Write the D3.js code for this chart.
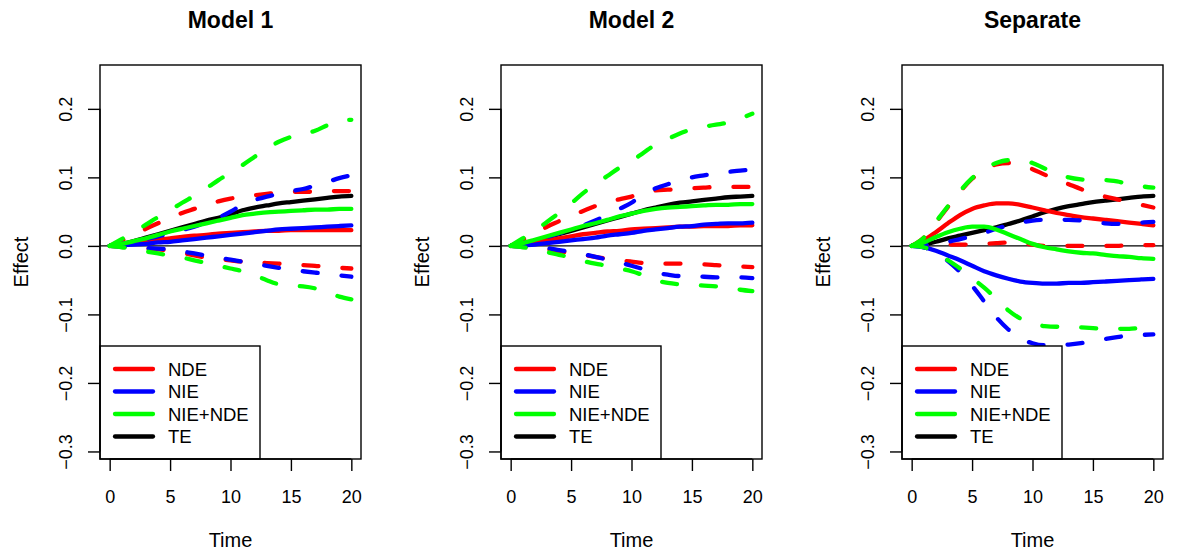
<!DOCTYPE html>
<html>
<head>
<meta charset="utf-8">
<script src="https://cdn.jsdelivr.net/npm/d3@7"></script>
<style>
  body { margin: 0; background: #fff; }
  svg { display: block; font-family: "Liberation Sans", Arial, sans-serif; }
</style>
</head>
<body>
<script>
// time points
var time = [0,1,2,3,4,5,6,7,8,9,10,11,12,13,14,15,16,17,18,19,20];

// Model 1
var m1NDE   = [0,0.002,0.004,0.007,0.009,0.011,0.013,0.015,0.016,0.018,0.019,0.020,0.021,0.022,0.022,0.023,0.023,0.023,0.023,0.023,0.023];
var m1NDElo = [0,-0.001,-0.002,-0.004,-0.005,-0.007,-0.010,-0.014,-0.017,-0.019,-0.021,-0.023,-0.024,-0.025,-0.026,-0.027,-0.028,-0.029,-0.031,-0.032,-0.033];
var m1NDEhi = [0,0.008,0.016,0.025,0.033,0.041,0.048,0.054,0.060,0.065,0.069,0.072,0.074,0.076,0.078,0.079,0.079,0.079,0.080,0.080,0.080];
var m1NIE   = [0,0.001,0.002,0.003,0.005,0.006,0.008,0.010,0.012,0.014,0.016,0.018,0.020,0.022,0.024,0.025,0.026,0.027,0.028,0.029,0.030];
var m1NIElo = [0,-0.001,-0.002,-0.003,-0.004,-0.005,-0.008,-0.011,-0.014,-0.017,-0.020,-0.023,-0.026,-0.029,-0.032,-0.035,-0.037,-0.039,-0.041,-0.043,-0.045];
var m1NIEhi = [0,0.003,0.006,0.010,0.014,0.018,0.023,0.028,0.034,0.041,0.050,0.060,0.067,0.072,0.076,0.080,0.083,0.088,0.093,0.099,0.103];
var m1SUM   = [0,0.003,0.007,0.011,0.016,0.021,0.025,0.029,0.033,0.037,0.041,0.045,0.047,0.049,0.050,0.051,0.052,0.053,0.053,0.054,0.054];
var m1SUMlo = [0,-0.002,-0.005,-0.008,-0.011,-0.014,-0.017,-0.021,-0.025,-0.029,-0.033,-0.037,-0.043,-0.050,-0.056,-0.058,-0.059,-0.062,-0.068,-0.074,-0.078];
var m1SUMhi = [0,0.010,0.020,0.031,0.042,0.052,0.063,0.073,0.084,0.096,0.107,0.118,0.130,0.142,0.152,0.159,0.163,0.168,0.176,0.183,0.184];
var m1TE    = [0,0.003,0.007,0.012,0.017,0.022,0.027,0.032,0.037,0.041,0.046,0.052,0.056,0.059,0.062,0.064,0.066,0.068,0.070,0.072,0.073];

// Model 2
var m2NDE   = [0,0.002,0.005,0.008,0.011,0.014,0.017,0.019,0.021,0.022,0.024,0.025,0.026,0.027,0.028,0.028,0.029,0.029,0.029,0.030,0.030];
var m2NDElo = [0,-0.001,-0.003,-0.005,-0.008,-0.010,-0.013,-0.016,-0.019,-0.021,-0.023,-0.025,-0.026,-0.026,-0.026,-0.027,-0.027,-0.028,-0.029,-0.030,-0.031];
var m2NDEhi = [0,0.009,0.018,0.028,0.036,0.044,0.051,0.058,0.064,0.068,0.072,0.078,0.081,0.082,0.083,0.084,0.085,0.086,0.086,0.086,0.086];
var m2NIE   = [0,0.001,0.002,0.004,0.006,0.008,0.010,0.012,0.015,0.017,0.019,0.022,0.024,0.026,0.028,0.029,0.031,0.032,0.033,0.033,0.034];
var m2NIElo = [0,-0.001,-0.002,-0.003,-0.006,-0.009,-0.012,-0.016,-0.020,-0.024,-0.029,-0.034,-0.039,-0.042,-0.044,-0.044,-0.045,-0.046,-0.046,-0.046,-0.047];
var m2NIEhi = [0,0.004,0.008,0.013,0.018,0.024,0.030,0.037,0.045,0.054,0.063,0.076,0.084,0.090,0.095,0.100,0.103,0.106,0.108,0.110,0.111];
var m2SUM   = [0,0.004,0.009,0.014,0.019,0.024,0.029,0.033,0.038,0.043,0.047,0.051,0.054,0.056,0.057,0.058,0.059,0.060,0.060,0.061,0.061];
var m2SUMlo = [0,-0.002,-0.005,-0.009,-0.013,-0.017,-0.022,-0.026,-0.029,-0.033,-0.037,-0.043,-0.050,-0.054,-0.056,-0.057,-0.058,-0.059,-0.061,-0.064,-0.066];
var m2SUMhi = [0,0.011,0.022,0.035,0.048,0.062,0.077,0.090,0.102,0.114,0.124,0.136,0.148,0.156,0.164,0.170,0.174,0.177,0.180,0.186,0.193];
var m2TE    = [0,0.003,0.007,0.012,0.017,0.022,0.027,0.032,0.037,0.042,0.047,0.052,0.056,0.060,0.063,0.065,0.067,0.069,0.071,0.072,0.073];

// Separate
var sNDE   = [0,0.008,0.020,0.033,0.045,0.054,0.059,0.062,0.062,0.060,0.056,0.052,0.048,0.045,0.042,0.040,0.038,0.036,0.034,0.032,0.030];
var sNDElo = [0,0,0.001,0.002,0.002,0.002,0.003,0.004,0.005,0.004,0.002,0,0,0,0,0,0,0,0.001,0.001,0.001];
var sNDEhi = [0,0.012,0.034,0.057,0.079,0.098,0.111,0.119,0.121,0.118,0.112,0.104,0.097,0.090,0.083,0.077,0.072,0.068,0.064,0.060,0.056];
var sNIE   = [0,-0.002,-0.007,-0.014,-0.021,-0.029,-0.037,-0.043,-0.048,-0.052,-0.054,-0.055,-0.055,-0.054,-0.054,-0.053,-0.052,-0.051,-0.050,-0.049,-0.048];
var sNIElo = [0,-0.002,-0.010,-0.022,-0.038,-0.058,-0.081,-0.104,-0.122,-0.135,-0.142,-0.145,-0.145,-0.144,-0.142,-0.139,-0.136,-0.133,-0.131,-0.130,-0.129];
var sNIEhi = [0,0.001,0.003,0.006,0.010,0.014,0.019,0.025,0.030,0.034,0.037,0.038,0.038,0.038,0.037,0.035,0.033,0.032,0.033,0.034,0.035];
var sSUM   = [0,0.005,0.013,0.020,0.025,0.028,0.028,0.024,0.017,0.010,0.003,-0.002,-0.005,-0.008,-0.010,-0.011,-0.013,-0.015,-0.016,-0.018,-0.019];
var sSUMlo = [0,-0.002,-0.010,-0.021,-0.033,-0.047,-0.061,-0.077,-0.094,-0.106,-0.113,-0.117,-0.118,-0.118,-0.119,-0.120,-0.121,-0.121,-0.121,-0.120,-0.120];
var sSUMhi = [0,0.012,0.035,0.058,0.080,0.099,0.112,0.121,0.125,0.125,0.121,0.113,0.106,0.100,0.097,0.096,0.096,0.094,0.090,0.087,0.085];
var sTE    = [0,0.002,0.006,0.011,0.015,0.019,0.023,0.027,0.032,0.037,0.043,0.049,0.054,0.058,0.061,0.064,0.066,0.068,0.070,0.072,0.073];

var titles = ["Model 1", "Model 2", "Separate"];
var legendLabels = ["NDE", "NIE", "NIE+NDE", "TE"];
var legendColors = ["#ff0000", "#0000ff", "#00ff00", "#000000"];
var xTicks = [0, 5, 10, 15, 20];
var yTicks = [0.2, 0.1, 0.0, -0.1, -0.2, -0.3];

// one list of series per panel, drawing order: TE, NDE, NIE, NIE+NDE
function series(te, nde, ndelo, ndehi, nie, nielo, niehi, sum, sumlo, sumhi) {
  return [
    {v: te, c: "#000000", dash: false},
    {v: nde, c: "#ff0000", dash: false}, {v: ndelo, c: "#ff0000", dash: true}, {v: ndehi, c: "#ff0000", dash: true},
    {v: nie, c: "#0000ff", dash: false}, {v: nielo, c: "#0000ff", dash: true}, {v: niehi, c: "#0000ff", dash: true},
    {v: sum, c: "#00ff00", dash: false}, {v: sumlo, c: "#00ff00", dash: true}, {v: sumhi, c: "#00ff00", dash: true}
  ];
}
var panels = [
  series(m1TE, m1NDE, m1NDElo, m1NDEhi, m1NIE, m1NIElo, m1NIEhi, m1SUM, m1SUMlo, m1SUMhi),
  series(m2TE, m2NDE, m2NDElo, m2NDEhi, m2NIE, m2NIElo, m2NIEhi, m2SUM, m2SUMlo, m2SUMhi),
  series(sTE, sNDE, sNDElo, sNDEhi, sNIE, sNIElo, sNIEhi, sSUM, sSUMlo, sSUMhi)
];

var W = 1180, H = 557;
var lefts = [100, 501, 902];
var pw = 261, plotTop = 65, plotBottom = 459;

var svg = d3.select("body").append("svg").attr("width", W).attr("height", H);

var y = d3.scaleLinear().domain([-0.311, 0.264]).range([plotBottom, plotTop]);

panels.forEach(function(lines, p) {
  var left = lefts[p];
  var x = d3.scaleLinear().domain([-0.8, 20.8]).range([left, left + pw]);
  var g = svg.append("g");

  var clipId = "clip" + p;
  g.append("clipPath").attr("id", clipId).append("rect")
    .attr("x", left).attr("y", plotTop).attr("width", pw).attr("height", plotBottom - plotTop);

  // zero line
  g.append("line").attr("x1", left).attr("x2", left + pw)
    .attr("y1", y(0)).attr("y2", y(0)).attr("stroke", "#000").attr("stroke-width", 1.4);

  var line = d3.line()
    .x(function(d, i) { return x(time[i]); })
    .y(function(d) { return y(d); })
    .curve(d3.curveMonotoneX);

  g.append("g").attr("clip-path", "url(#" + clipId + ")")
    .selectAll("path").data(lines).enter().append("path")
    .attr("d", function(d) { return line(d.v); })
    .attr("fill", "none")
    .attr("stroke", function(d) { return d.c; })
    .attr("stroke-width", 4.3)
    .attr("stroke-linecap", "round")
    .attr("stroke-linejoin", "round")
    .attr("stroke-dasharray", function(d) { return d.dash ? "15,24" : null; });

  // legend
  var lg = g.append("g");
  lg.append("rect").attr("x", left).attr("y", 346).attr("width", 160).attr("height", plotBottom - 346)
    .attr("fill", "#fff").attr("stroke", "#000").attr("stroke-width", 1.4);
  legendLabels.forEach(function(lab, i) {
    var ly = 369 + i * 22.5;
    lg.append("line").attr("x1", left + 15).attr("x2", left + 53).attr("y1", ly).attr("y2", ly)
      .attr("stroke", legendColors[i]).attr("stroke-width", 4.3).attr("stroke-linecap", "round");
    lg.append("text").attr("x", left + 68).attr("y", ly + 6.5)
      .attr("font-size", 18.5).text(lab);
  });

  // box
  g.append("rect").attr("x", left).attr("y", plotTop).attr("width", pw).attr("height", plotBottom - plotTop)
    .attr("fill", "none").attr("stroke", "#000").attr("stroke-width", 1.4);

  // axes
  var xa = g.append("g").attr("transform", "translate(0," + plotBottom + ")")
    .call(d3.axisBottom(x).tickValues(xTicks).tickSize(12).tickSizeOuter(0).tickPadding(19));
  xa.select(".domain").remove();
  xa.append("line").attr("x1", x(0)).attr("x2", x(20)).attr("stroke", "#000").attr("stroke-width", 1.4);
  xa.selectAll(".tick line").attr("stroke-width", 1.4);
  xa.selectAll("text").attr("font-size", 18).attr("fill", "#000")
    .attr("font-family", "Liberation Sans, Arial, sans-serif");

  var ya = g.append("g").attr("transform", "translate(" + left + ",0)")
    .call(d3.axisLeft(y).tickValues(yTicks).tickSize(12).tickSizeOuter(0)
      .tickFormat(function(d) { return d3.format(".1f")(d).replace("-", "\u2212"); }));
  ya.select(".domain").remove();
  ya.append("line").attr("y1", y(0.2)).attr("y2", y(-0.3)).attr("stroke", "#000").attr("stroke-width", 1.4);
  ya.selectAll(".tick line").attr("stroke-width", 1.4);
  ya.selectAll("text")
    .attr("x", null).attr("dy", null)
    .attr("transform", "translate(-28,0) rotate(-90)")
    .attr("text-anchor", "middle")
    .attr("font-size", 18).attr("fill", "#000")
    .attr("font-family", "Liberation Sans, Arial, sans-serif");

  // titles
  svg.append("text").attr("x", left + pw / 2).attr("y", 28)
    .attr("text-anchor", "middle").attr("font-size", 23).attr("font-weight", "bold")
    .text(titles[p]);
  svg.append("text").attr("x", left + pw / 2).attr("y", 547)
    .attr("text-anchor", "middle").attr("font-size", 20).text("Time");
  svg.append("text").attr("transform", "translate(" + (left - 72) + "," + ((plotTop + plotBottom) / 2) + ") rotate(-90)")
    .attr("text-anchor", "middle").attr("font-size", 20).text("Effect");
});
</script>
</body>
</html>
